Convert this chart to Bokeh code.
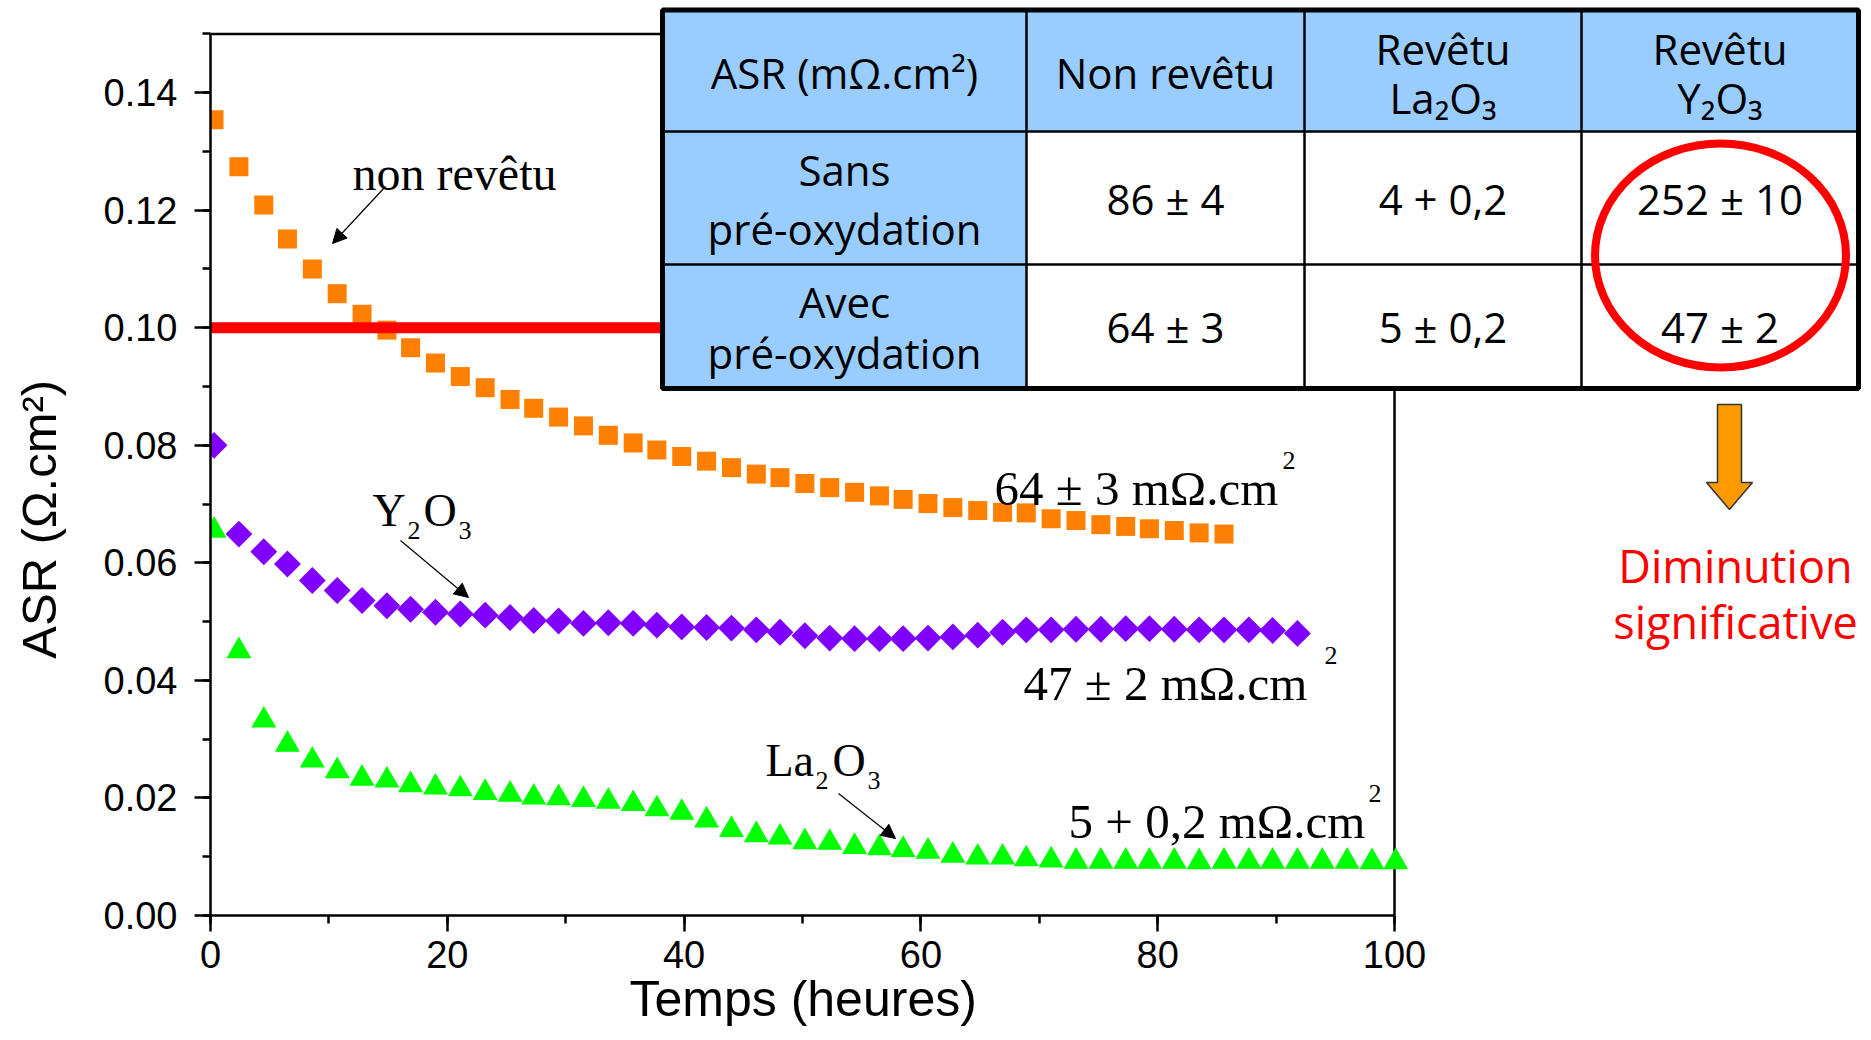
import math
from bokeh.plotting import figure
from bokeh.models import (Range1d, SingleIntervalTicker, PrintfTickFormatter, Arrow,
                          NormalHead, Title)
from bokeh.core.properties import value
from bokeh.embed import file_html
from bokeh.resources import INLINE

# ---------------- data ----------------
time_h = [0.3, 2.4, 4.5, 6.5, 8.6, 10.7, 12.8, 14.9, 16.9, 19.0, 21.1, 23.2, 25.3, 27.3,
          29.4, 31.5, 33.6, 35.7, 37.7, 39.8, 41.9, 44.0, 46.1, 48.1, 50.2, 52.3, 54.4,
          56.5, 58.5, 60.6, 62.7, 64.8, 66.9, 68.9, 71.0, 73.1, 75.2, 77.3, 79.3, 81.4,
          83.5, 85.6, 87.7, 89.7, 91.8, 93.9, 96.0, 98.1, 100.1]

asr_non_revetu = [0.1354, 0.1274, 0.1209, 0.1151, 0.1100, 0.1058, 0.1023, 0.0996, 0.0966,
                  0.0940, 0.0917, 0.0898, 0.0878, 0.0863, 0.0848, 0.0833, 0.0817, 0.0804,
                  0.0792, 0.0781, 0.0773, 0.0762, 0.0751, 0.0745, 0.0735, 0.0728, 0.0720,
                  0.0714, 0.0708, 0.0701, 0.0694, 0.0689, 0.0686, 0.0685, 0.0675, 0.0672,
                  0.0665, 0.0662, 0.0658, 0.0655, 0.0651, 0.0649]

asr_y2o3 = [0.0800, 0.0649, 0.0619, 0.0598, 0.0570, 0.0553, 0.0536, 0.0527, 0.0521, 0.0516,
            0.0513, 0.0511, 0.0507, 0.0502, 0.0501, 0.0497, 0.0498, 0.0497, 0.0494, 0.0491,
            0.0490, 0.0489, 0.0486, 0.0482, 0.0476, 0.0472, 0.0471, 0.0471, 0.0471, 0.0472,
            0.0474, 0.0477, 0.0482, 0.0486, 0.0486, 0.0487, 0.0487, 0.0488, 0.0488, 0.0487,
            0.0486, 0.0486, 0.0486, 0.0485, 0.0480]

asr_la2o3 = [0.0655, 0.0450, 0.0332, 0.0291, 0.0264, 0.0246, 0.0233, 0.0230, 0.0222, 0.0218,
             0.0215, 0.0209, 0.0206, 0.0201, 0.0200, 0.0197, 0.0194, 0.0190, 0.0181, 0.0175,
             0.0162, 0.0146, 0.0137, 0.0133, 0.0125, 0.0124, 0.0117, 0.0115, 0.0112, 0.0109,
             0.0102, 0.0099, 0.0099, 0.0096, 0.0094, 0.0092, 0.0092, 0.0092, 0.0092, 0.0092,
             0.0091, 0.0092, 0.0092, 0.0092, 0.0092, 0.0092, 0.0092, 0.0091, 0.0091]

threshold_asr = 0.10
x_axis_max = 100
y_axis_max = 0.15
x_title = "Temps (heures)"
y_title = "ASR (Ω.cm²)"

series_labels = ["non revêtu", "Y", "La"]
final_labels = ["64 ± 3 mΩ.cm", "47 ± 2  mΩ.cm", "5 + 0,2 mΩ.cm"]

table_header = ["ASR (mΩ.cm²)", "Non revêtu", "Revêtu", "La₂O₃", "Revêtu", "Y₂O₃"]
table_rows = ["Sans", "pré-oxydation", "Avec", "pré-oxydation"]
vals_non_revetu = ["86 ± 4", "64 ± 3"]
vals_la2o3 = ["4 + 0,2", "5 ± 0,2"]
vals_y2o3 = ["252 ± 10", "47 ± 2"]
conclusion = ["Diminution", "significative"]

# ---------------- layout (page pixels) ----------------
W, H = 1871, 1040
FRAME_LEFT, FRAME_RIGHT, FRAME_TOP, FRAME_BOTTOM = 210, 1871, 0, 915
X_AT_MAX, Y_AT_MAX = 1394, 33.4

x_end = (FRAME_RIGHT - FRAME_LEFT) / ((X_AT_MAX - FRAME_LEFT) / x_axis_max)
y_end = (FRAME_BOTTOM - FRAME_TOP) / ((FRAME_BOTTOM - Y_AT_MAX) / y_axis_max)

p = figure(width=W, height=H, x_range=Range1d(0, x_end), y_range=Range1d(0, y_end),
           output_backend="svg", toolbar_location=None,
           min_border_left=FRAME_LEFT, min_border_right=W - FRAME_RIGHT,
           min_border_top=FRAME_TOP, min_border_bottom=H - FRAME_BOTTOM)
p.extra_x_ranges = {"px": Range1d(FRAME_LEFT, FRAME_RIGHT)}
p.extra_y_ranges = {"py": Range1d(FRAME_BOTTOM, FRAME_TOP)}
p.outline_line_color = None
p.xgrid.visible = False
p.ygrid.visible = False
p.background_fill_color = "white"
p.border_fill_color = "white"

PX = dict(x_range_name="px", y_range_name="py")

for ax in (p.xaxis[0], p.yaxis[0]):
    ax.axis_line_width = 2.5
    ax.axis_line_color = "black"
    ax.major_tick_line_width = 2.5
    ax.minor_tick_line_width = 2.5
    ax.major_tick_line_color = "black"
    ax.minor_tick_line_color = "black"
    ax.major_tick_in = 0
    ax.major_tick_out = 16
    ax.minor_tick_in = 0
    ax.minor_tick_out = 8
    ax.major_label_text_font = "Liberation Sans"
    ax.major_label_text_font_size = "38px"
    ax.major_label_text_color = "black"
    ax.axis_label_text_font = "Liberation Sans"
    ax.axis_label_text_font_style = "normal"
    ax.axis_label_text_color = "black"

xa = p.xaxis[0]
xa.bounds = (0, x_axis_max)
xa.ticker = SingleIntervalTicker(interval=20, num_minor_ticks=2)
xa.major_label_standoff = 9

ya = p.yaxis[0]
ya.bounds = (0, y_axis_max + 1e-6)
ya.ticker = SingleIntervalTicker(interval=0.02, num_minor_ticks=2)
ya.formatter = PrintfTickFormatter(format="%.2f")
ya.major_label_standoff = 17
# the label is centred on the (taller) frame: trailing no-break spaces move it down
ya.axis_label = y_title + "\u00A0" * 9
ya.axis_label_text_font_size = "49px"
ya.axis_label_standoff = 35

# x title, placed in the panel below the axis
p.add_layout(Title(text=x_title, align="left", offset=419, standoff=0,
                   vertical_align="top", text_font="Liberation Sans",
                   text_font_size="50px", text_font_style="normal",
                   text_color="black"), "below")

# plot box (top and right sides)
p.line(x=[0, x_axis_max], y=[y_axis_max, y_axis_max], line_color="black", line_width=2.5)
p.line(x=[x_axis_max, x_axis_max], y=[0, y_axis_max], line_color="black", line_width=2.5)

# series
p.scatter(time_h[:len(asr_la2o3)], asr_la2o3, marker="triangle", size=25,
          fill_color="#00FF00", line_color=None)
p.scatter(time_h[:len(asr_y2o3)], asr_y2o3, marker="square", angle=math.pi / 4, size=19,
          fill_color="#8000FF", line_color=None)
p.scatter(time_h[:len(asr_non_revetu)], asr_non_revetu, marker="square", size=19,
          fill_color="#FF8000", line_color=None)

# threshold line
p.line(x=[0, x_axis_max], y=[threshold_asr, threshold_asr], line_color="#FF0000", line_width=11)

# ---------------- annotations (Times) ----------------
SERIF = value("Liberation Serif")
p.text(x=[454], y=[173], text=[series_labels[0]], text_font=SERIF, text_font_size="48px",
       text_align="center", text_baseline="alphabetic", text_color="black", **PX)

# formulas with subscripts: Y2O3 and La2O3
p.text(x=[372, 423, 765, 832], y=[510, 510, 760, 760],
       text=[series_labels[1], "O", series_labels[2], "O"],
       text_font=SERIF, text_font_size="46px", text_align="left",
       text_baseline="alphabetic", text_color="black", **PX)
p.text(x=[407, 458, 815, 867], y=[530, 530, 780, 780], text=["2", "3", "2", "3"],
       text_font=SERIF, text_font_size="26px", text_align="left",
       text_baseline="alphabetic", text_color="black", **PX)

# final values with superscript 2
p.text(x=[994, 1023, 1068], y=[488, 683, 821], text=final_labels, text_font=SERIF,
       text_font_size="49px", text_align="left", text_baseline="alphabetic",
       text_color="black", **PX)
p.text(x=[1282, 1324, 1368], y=[460, 655, 793], text=["2", "2", "2"], text_font=SERIF,
       text_font_size="26px", text_align="left", text_baseline="alphabetic",
       text_color="black", **PX)

for (xs, ys, xe, ye) in [(385, 186, 332, 243), (400, 540, 468, 597), (838, 793, 895, 838)]:
    p.add_layout(Arrow(end=NormalHead(size=14, fill_color="black", line_color="black",
                                      line_width=1),
                       x_start=xs, y_start=ys, x_end=xe, y_end=ye,
                       line_color="black", line_width=1.2, **PX))

# ---------------- table ----------------
COLS = [662, 1026, 1304, 1581, 1858]
ROWS = [9.5, 131, 264, 388]
BLUE = "#99CCFF"
cl, cr, ct, cb, cf = [], [], [], [], []
for r in range(3):
    for c in range(4):
        cl.append(COLS[c]); cr.append(COLS[c + 1])
        ct.append(ROWS[r]); cb.append(ROWS[r + 1])
        cf.append(BLUE if (r == 0 or c == 0) else "white")
p.quad(left=cl, right=cr, top=ct, bottom=cb, fill_color=cf, line_color=None, **PX)
inner_xs = [[COLS[0], COLS[-1]] for _ in ROWS[1:-1]] + [[c, c] for c in COLS[1:-1]]
inner_ys = [[y, y] for y in ROWS[1:-1]] + [[ROWS[0], ROWS[-1]] for _ in COLS[1:-1]]
p.multi_line(xs=inner_xs, ys=inner_ys, line_color="black", line_width=2.5, **PX)
p.quad(left=[COLS[0]], right=[COLS[-1]], top=[ROWS[0]], bottom=[ROWS[-1]],
       fill_color=None, line_color="black", line_width=5, **PX)

TFONT = value("Open Sans")
col_centers = [(COLS[i] + COLS[i + 1]) / 2 for i in range(4)]
row_centers = [(ROWS[i] + ROWS[i + 1]) / 2 for i in range(3)]
p.text(x=[col_centers[0], col_centers[1], col_centers[2], col_centers[2],
          col_centers[3], col_centers[3]],
       y=[72, 72, 48, 97, 48, 97], text=table_header, text_font=TFONT,
       text_font_size="42px", text_align="center", text_baseline="middle",
       text_color="black", **PX)
p.text(x=[col_centers[0]] * 4, y=[169, 228, 301, 352], text=table_rows, text_font=TFONT,
       text_font_size="42px", text_align="center", text_baseline="middle",
       text_color="black", **PX)
vx, vy, vt = [], [], []
for ci, vals in enumerate([vals_non_revetu, vals_la2o3, vals_y2o3]):
    for ri, v in enumerate(vals):
        vx.append(col_centers[ci + 1]); vy.append(row_centers[ri + 1]); vt.append(v)
p.text(x=vx, y=vy, text=vt, text_font=TFONT, text_font_size="42px", text_align="center",
       text_baseline="middle", text_color="black", **PX)

# red circle, orange arrow, conclusion
p.ellipse(x=[1720], y=[255], width=[251], height=[224], fill_color=None,
          line_color="#FF0000", line_width=8, **PX)
p.patch(x=[1717, 1741, 1741, 1752, 1729, 1706, 1717],
        y=[404, 404, 482, 482, 509, 482, 482],
        fill_color="#FF9900", line_color="#333333", line_width=1.5, **PX)
p.text(x=[1735, 1735], y=[565, 621], text=conclusion, text_font=TFONT, text_font_size="45px",
       text_align="center", text_baseline="middle", text_color="#FF0000", **PX)

open("out.html", "w").write(file_html(p, INLINE))
